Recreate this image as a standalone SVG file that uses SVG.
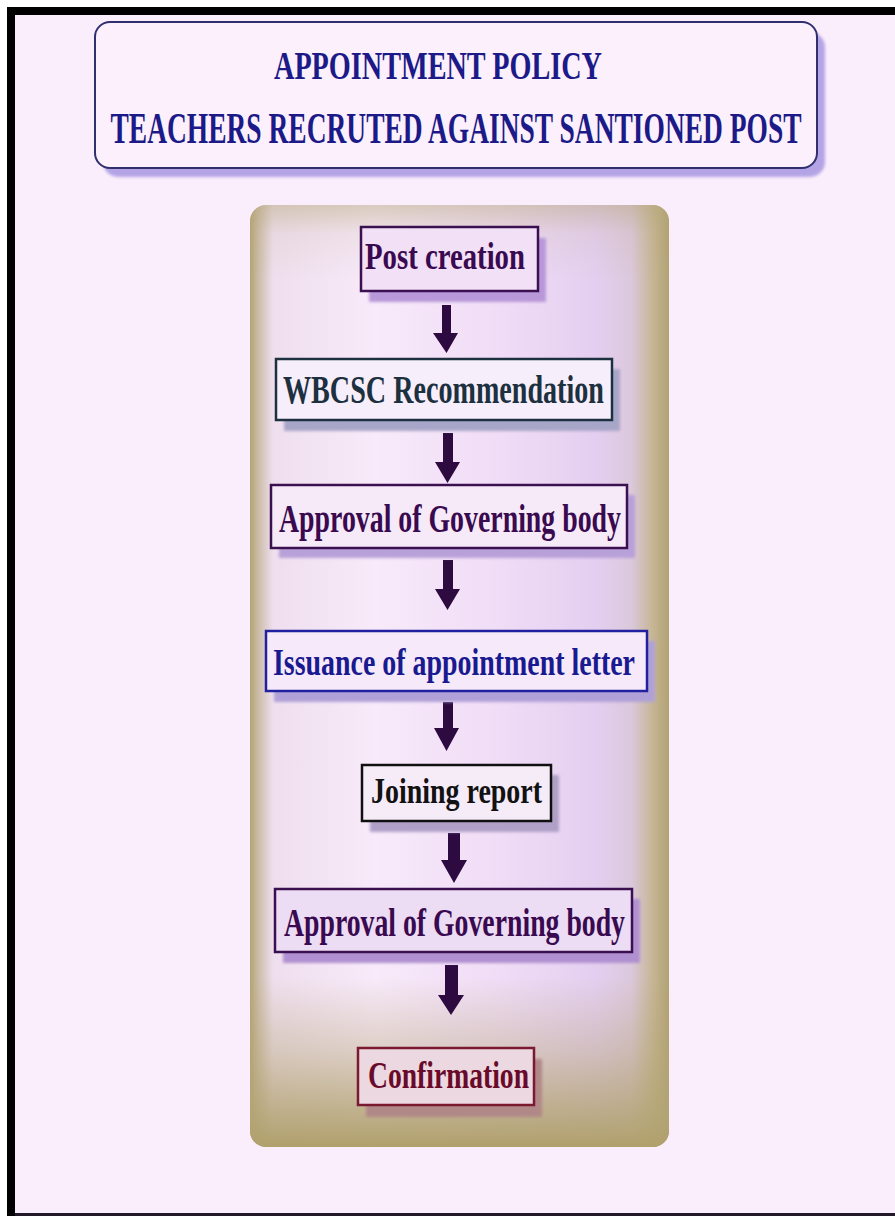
<svg xmlns="http://www.w3.org/2000/svg" width="895" height="1216" viewBox="0 0 895 1216">
<defs>
<linearGradient id="panelH" x1="0" y1="0" x2="1" y2="0">
<stop offset="0" stop-color="#b3a474"/>
<stop offset="0.02" stop-color="#cbbca8"/>
<stop offset="0.055" stop-color="#efdfee"/>
<stop offset="0.3" stop-color="#f8eafa"/>
<stop offset="0.6" stop-color="#f0dcf6"/>
<stop offset="0.83" stop-color="#e4cef0"/>
<stop offset="0.91" stop-color="#dcc8dc"/>
<stop offset="0.96" stop-color="#c6b696"/>
<stop offset="1" stop-color="#b2a272"/>
</linearGradient>
<linearGradient id="panelV" x1="0" y1="0" x2="0" y2="1">
<stop offset="0" stop-color="#b3a474" stop-opacity="0.45"/>
<stop offset="0.03" stop-color="#b3a474" stop-opacity="0.12"/>
<stop offset="0.08" stop-color="#b3a474" stop-opacity="0"/>
<stop offset="0.82" stop-color="#b3a474" stop-opacity="0"/>
<stop offset="0.9" stop-color="#b3a474" stop-opacity="0.4"/>
<stop offset="0.96" stop-color="#b3a474" stop-opacity="0.8"/>
<stop offset="1" stop-color="#b0a06c" stop-opacity="1"/>
</linearGradient>
<filter id="soft" x="-10%" y="-10%" width="120%" height="130%">
<feGaussianBlur stdDeviation="1.5"/>
</filter>
</defs>
<style>
.t{font-family:"Liberation Serif","Times New Roman",serif;font-weight:bold;text-anchor:middle}
.box{stroke-width:2.5}
.arrow{fill:#2d0b40}
</style>
<rect x="0" y="0" width="895" height="1216" fill="#ffffff"/>
<rect x="7" y="7" width="888" height="1209" fill="#000000"/>
<rect x="15" y="15" width="880" height="1198" fill="#fbeefc"/>
<rect x="15" y="1213" width="880" height="3" fill="#221a2a"/>

<g id="title">
<rect x="103" y="32" width="722" height="145" rx="15" fill="#b4a4e6" filter="url(#soft)"/>
<rect x="95" y="22" width="722" height="146" rx="15" fill="#fbf0fc" stroke="#30306e" stroke-width="2"/>
<text class="t" x="438" y="79" font-size="39" fill="#1c1a88" textLength="328" lengthAdjust="spacingAndGlyphs">APPOINTMENT POLICY</text>
<text class="t" x="456" y="143" font-size="44" fill="#1c1a88" textLength="691" lengthAdjust="spacingAndGlyphs">TEACHERS RECRUTED AGAINST SANTIONED POST</text>
</g>

<g id="panel">
<rect x="250" y="205" width="419" height="942" rx="16" fill="url(#panelH)"/>
<rect x="250" y="205" width="419" height="942" rx="16" fill="url(#panelV)"/>
</g>

<g id="connectors">
<polygon class="arrow" points="442,305 451,305 451,333 458,333 446.5,353 433,333 442,333"/>
<polygon class="arrow" points="443,433 453,433 453,462 460,462 447.5,483 435,462 443,462"/>
<polygon class="arrow" points="443,560 453,560 453,589 460,589 447.5,610 435,589 443,589"/>
<polygon class="arrow" points="443,702 453,702 453,728 459,728 446.5,751 434,728 443,728"/>
<polygon class="arrow" points="448,833 460,833 460,860 467,860 454,883 441,860 448,860"/>
<polygon class="arrow" points="445,965 458,965 458,995 464,995 451,1015 438,995 445,995"/>
</g>

<g id="node-post-creation">
<rect x="369" y="238" width="177" height="64" fill="#b898d8" filter="url(#soft)"/>
<rect class="box" x="361" y="227" width="177" height="64" fill="#f2e0f6" stroke="#3a1050"/>
<text class="t" x="445" y="269" font-size="37" fill="#3a0a50" textLength="160" lengthAdjust="spacingAndGlyphs">Post creation</text>
</g>

<g id="node-wbcsc">
<rect x="284" y="369" width="336" height="62" fill="#a8a6c8" filter="url(#soft)"/>
<rect class="box" x="276" y="359" width="336" height="61" fill="#f6eefa" stroke="#1c3040"/>
<text class="t" x="443.5" y="403" font-size="39" fill="#1c3040" textLength="321" lengthAdjust="spacingAndGlyphs">WBCSC Recommendation</text>
</g>

<g id="node-approval-1">
<rect x="279" y="495" width="356" height="63" fill="#b8a0d8" filter="url(#soft)"/>
<rect class="box" x="271" y="485" width="356" height="63" fill="#f6eaf8" stroke="#3a1050"/>
<text class="t" x="450" y="532" font-size="39" fill="#3a0a50" textLength="342" lengthAdjust="spacingAndGlyphs">Approval of Governing body</text>
</g>

<g id="node-issuance">
<rect x="274" y="641" width="381" height="61" fill="#b0a0d8" filter="url(#soft)"/>
<rect class="box" x="266" y="631" width="381" height="60" fill="#f6eafa" stroke="#2020a0"/>
<text class="t" x="454" y="675" font-size="38" fill="#1a1a90" textLength="362" lengthAdjust="spacingAndGlyphs">Issuance of appointment letter</text>
</g>

<g id="node-joining">
<rect x="370" y="775" width="189" height="57" fill="#b0a0c8" filter="url(#soft)"/>
<rect class="box" x="362" y="765" width="189" height="56" fill="#f6ecf8" stroke="#101010"/>
<text class="t" x="456.5" y="803" font-size="36" fill="#121212" textLength="171" lengthAdjust="spacingAndGlyphs">Joining report</text>
</g>

<g id="node-approval-2">
<rect x="283" y="899" width="357" height="64" fill="#b090d0" filter="url(#soft)"/>
<rect class="box" x="275" y="889" width="357" height="63" fill="#ecdcf4" stroke="#3a1050"/>
<text class="t" x="454.5" y="936" font-size="39" fill="#3a0a50" textLength="341" lengthAdjust="spacingAndGlyphs">Approval of Governing body</text>
</g>

<g id="node-confirmation">
<rect x="366" y="1059" width="176" height="58" fill="#b08888" filter="url(#soft)"/>
<rect class="box" x="358" y="1048" width="176" height="57" fill="#ecd8e0" stroke="#7a1a30"/>
<text class="t" x="448.5" y="1088" font-size="37" fill="#6a0a2a" textLength="161" lengthAdjust="spacingAndGlyphs">Confirmation</text>
</g>
</svg>
